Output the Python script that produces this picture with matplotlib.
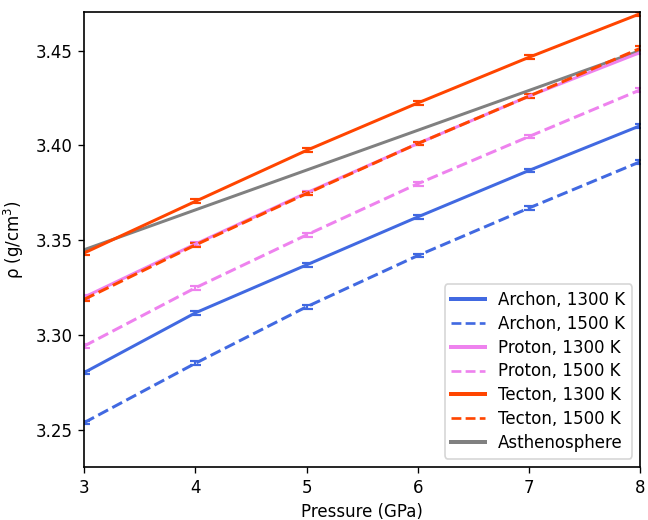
import matplotlib
matplotlib.use("Agg")
import matplotlib.pyplot as plt
from matplotlib.lines import Line2D
import numpy as np

pressure = [3, 4, 5, 6, 7, 8]

archon_1300 = [3.2802, 3.3117, 3.3370, 3.3623, 3.3868, 3.4104]
archon_1500 = [3.2538, 3.2851, 3.3149, 3.3419, 3.3670, 3.3914]
proton_1300 = [3.3200, 3.3480, 3.3750, 3.4010, 3.4260, 3.4490]
proton_1500 = [3.2942, 3.3249, 3.3528, 3.3798, 3.4047, 3.4293]
tecton_1300 = [3.3433, 3.3705, 3.3974, 3.4224, 3.4465, 3.4695]
tecton_1500 = [3.3188, 3.3475, 3.3746, 3.4010, 3.4260, 3.4512]
asthenosphere = [3.3450, 3.3660, 3.3870, 3.4080, 3.4290, 3.4500]

err = [0.001, 0.001, 0.001, 0.001, 0.001, 0.001]

series = [
    ("Archon, 1300 K", archon_1300, "royalblue", "-"),
    ("Archon, 1500 K", archon_1500, "royalblue", "--"),
    ("Proton, 1300 K", proton_1300, "violet", "-"),
    ("Proton, 1500 K", proton_1500, "violet", "--"),
    ("Tecton, 1300 K", tecton_1300, "orangered", "-"),
    ("Tecton, 1500 K", tecton_1500, "orangered", "--"),
]

DPI = 120
fig = plt.figure(figsize=(648 / DPI, 520 / DPI), dpi=DPI)
ax = fig.add_axes([0.13, 0.102, 0.858, 0.875])

handles = []
for label, vals, color, ls in series:
    ax.errorbar(pressure, vals, yerr=err, color=color, ls=ls, lw=1.8,
                capsize=3.3, capthick=1.3, elinewidth=1.3)
    handles.append(Line2D([], [], color=color, ls=ls,
                          lw=2.4 if ls == "-" else 1.6, label=label))

ax.plot(pressure, asthenosphere, color="gray", lw=1.8)
handles.append(Line2D([], [], color="gray", ls="-", lw=2.4, label="Asthenosphere"))

for s in ax.spines.values():
    s.set_linewidth(1.0)

ax.set_xlim(3, 8)
ax.set_ylim(3.2304, 3.4704)
ax.set_yticks([3.25, 3.30, 3.35, 3.40, 3.45])
ax.set_xlabel("Pressure (GPa)")
ax.set_ylabel("ρ (g/cm$^3$)", labelpad=6)
ax.legend(handles=handles, loc="lower right", labelspacing=0.35)

fig.savefig("out.png", dpi=DPI)
